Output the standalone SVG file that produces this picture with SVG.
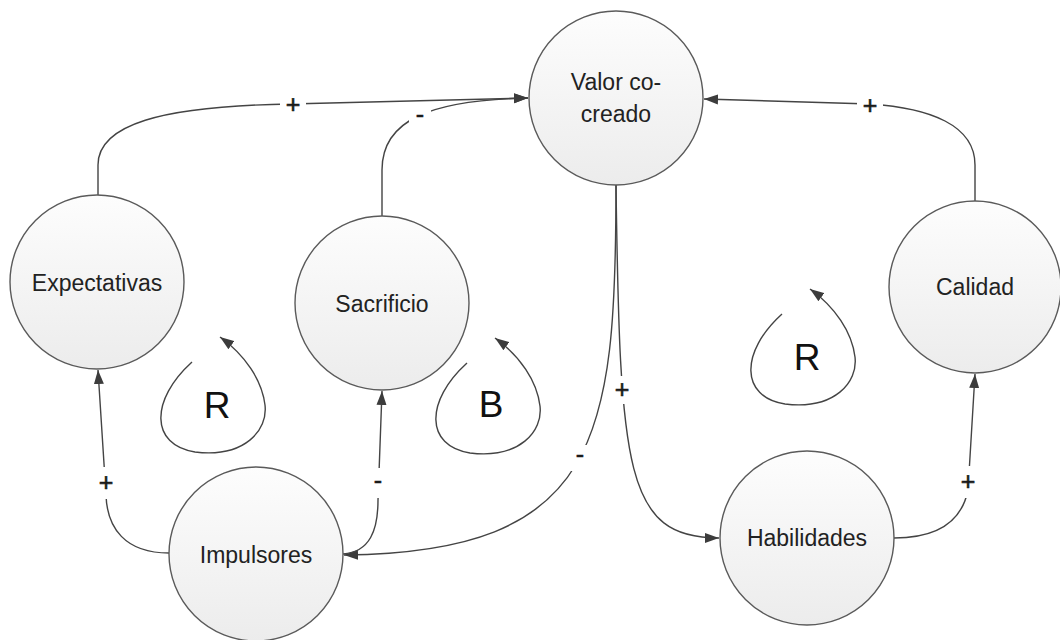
<svg xmlns="http://www.w3.org/2000/svg" width="1060" height="640" viewBox="0 0 1060 640">
  <defs>
    <linearGradient id="nodeFill" x1="0" y1="0" x2="0" y2="1">
      <stop offset="0" stop-color="#fdfdfd"/>
      <stop offset="1" stop-color="#ececec"/>
    </linearGradient>
    <marker id="arrow" markerUnits="userSpaceOnUse" markerWidth="15" markerHeight="11" refX="14" refY="5.5" orient="auto">
      <path d="M0,0.5 L14,5.5 L0,10.5 Z" fill="#3c3c3c"/>
    </marker>
    <style>
      .node circle { fill: url(#nodeFill); stroke: #5a5a5a; stroke-width: 1.4; }
      .node text { font-family: "Liberation Sans", Arial, sans-serif; font-size: 23px; fill: #222; text-anchor: middle; }
      .link { fill: none; stroke: #444; stroke-width: 1.4; marker-end: url(#arrow); }
      .loop { fill: none; stroke: #444; stroke-width: 1.4; marker-end: url(#arrow); }
      .sign rect { fill: #ffffff; }
      .sign text { font-family: "Liberation Sans", Arial, sans-serif; font-size: 25px; fill: #1a1a1a; stroke: #1a1a1a; stroke-width: 0.6; text-anchor: middle; }
      .loopLabel { font-family: "Liberation Sans", Arial, sans-serif; font-size: 37px; fill: #111; text-anchor: middle; }
    </style>
  </defs>

  <rect width="1060" height="640" fill="#ffffff"/>

  <!-- causal links -->
  <g id="connectors">
    <path class="link" d="M98,195 L98,165 C98,125 160,106 290,104 L528,98"/>
    <path class="link" d="M382,216 L382,170 C382,120 430,100 528,98"/>
    <path class="link" d="M975,201 L975,165 C975,125 930,108 870,104 L704,99"/>
    <path class="link" d="M616,185 C616,440 600,552 344,555"/>
    <path class="link" d="M616,185 C620,470 625,538 719,538"/>
    <path class="link" d="M169,553 C125,553 107,528 106,495 L98,370"/>
    <path class="link" d="M343,554 C370,552 378,530 378,500 L382,391"/>
    <path class="link" d="M894,538 C945,538 963,515 968,490 L975,374"/>
  </g>

  <!-- polarity signs -->
  <g id="signs">
    <g class="sign"><rect x="280" y="94" width="26" height="22"/><text x="293" y="113">+</text></g>
    <g class="sign"><rect x="409" y="106" width="22" height="22"/><text x="420" y="123">-</text></g>
    <g class="sign"><rect x="857" y="95" width="26" height="22"/><text x="870" y="114">+</text></g>
    <g class="sign"><rect x="609" y="376" width="26" height="28"/><text x="622" y="398">+</text></g>
    <g class="sign"><rect x="569" y="445" width="22" height="26"/><text x="580" y="463">-</text></g>
    <g class="sign"><rect x="367" y="468" width="22" height="30"/><text x="378" y="489">-</text></g>
    <g class="sign"><rect x="93" y="467" width="26" height="32"/><text x="106" y="491">+</text></g>
    <g class="sign"><rect x="955" y="466" width="26" height="32"/><text x="968" y="490">+</text></g>
  </g>

  <!-- loop markers -->
  <g id="loops">
    <path class="loop" d="M192,362 C150,400 150,445 195,452 C245,458 268,430 265,405 C262,380 245,355 220,337"/>
    <text class="loopLabel" x="217" y="418">R</text>
    <path class="loop" d="M467,363 C425,401 425,446 470,453 C520,459 543,431 540,406 C537,381 520,356 495,338"/>
    <text class="loopLabel" x="491" y="417">B</text>
    <path class="loop" d="M782,314 C740,352 740,397 785,404 C835,410 858,382 855,357 C852,332 835,307 810,289"/>
    <text class="loopLabel" x="807" y="370">R</text>
  </g>

  <!-- variables -->
  <g id="valor" class="node">
    <circle cx="616" cy="98" r="87"/>
    <text x="616" y="90">Valor co-</text>
    <text x="616" y="122">creado</text>
  </g>
  <g id="expectativas" class="node">
    <circle cx="97" cy="282" r="87"/>
    <text x="97" y="291">Expectativas</text>
  </g>
  <g id="sacrificio" class="node">
    <circle cx="382" cy="303" r="87"/>
    <text x="382" y="312">Sacrificio</text>
  </g>
  <g id="calidad" class="node">
    <circle cx="975" cy="287" r="86"/>
    <text x="975" y="295">Calidad</text>
  </g>
  <g id="impulsores" class="node">
    <circle cx="256" cy="554" r="87"/>
    <text x="256" y="563">Impulsores</text>
  </g>
  <g id="habilidades" class="node">
    <circle cx="807" cy="538" r="87"/>
    <text x="807" y="546">Habilidades</text>
  </g>
</svg>
